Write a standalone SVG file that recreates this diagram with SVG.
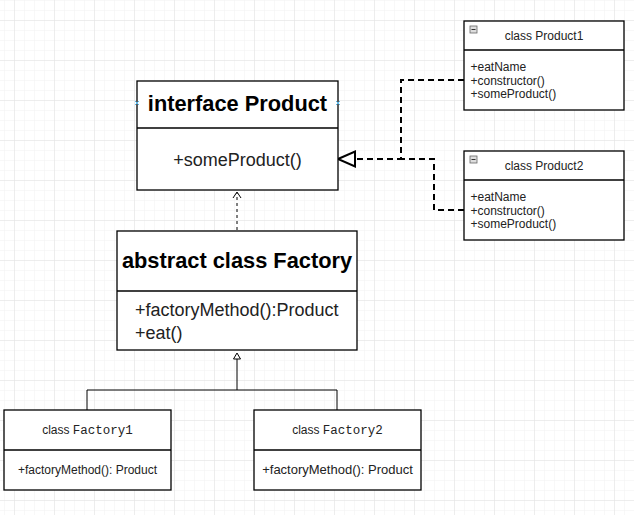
<svg xmlns="http://www.w3.org/2000/svg" width="634" height="515" viewBox="0 0 634 515">
<style>
.box{fill:#fff;stroke:#000;stroke-width:1.3}
.div{stroke:#000;stroke-width:1.3}
.t{font-family:"Liberation Sans",Arial,sans-serif;fill:#222}
.b{font-weight:bold;font-size:21.8px;fill:#000}
.m{font-size:18px}
.s{font-size:12px}
.mono{font-family:"Liberation Mono","Courier New",monospace;font-size:12.5px}
.dash{fill:none;stroke:#000;stroke-width:2;stroke-dasharray:6 4}
.thin{fill:none;stroke:#000;stroke-width:1}
</style>
<defs>
<pattern id="minor" width="10" height="10" patternUnits="userSpaceOnUse" x="4" y="0">
<path d="M0 0H10M0 0V10" fill="none" stroke="#f1f1f1" stroke-width="1"/>
</pattern>
<pattern id="major" width="40" height="40" patternUnits="userSpaceOnUse" x="14" y="20">
<path d="M0 0H40M0 0V40" fill="none" stroke="#e2e2e2" stroke-width="1"/>
</pattern>
</defs>
<rect width="634" height="515" fill="#fff"/>
<rect width="634" height="515" fill="url(#minor)"/>
<rect width="634" height="515" fill="url(#major)"/>

<g id="connectors">
<path class="dash" d="M464 80H401V159H355"/>
<path class="dash" d="M464 210H434V159H401"/>
<path d="M338 159L355 151.5V166.5Z" fill="#fff" stroke="#000" stroke-width="2"/>
<path class="thin" d="M237 230V193" stroke-dasharray="3 3"/>
<path class="thin" d="M233 198L237 192L241 198"/>
<path class="thin" d="M237 359V390M87 410V390H337V410"/>
<path d="M237 353L240.5 359H233.5Z" fill="#fff" stroke="#000" stroke-width="1"/>
</g>

<g id="interface-product">
<rect class="box" x="137" y="81" width="201" height="109"/>
<line class="div" x1="137" y1="128" x2="338" y2="128"/>
<text class="t b" x="237.5" y="110.5" text-anchor="middle">interface Product</text>
<text class="t m" x="237.5" y="166" text-anchor="middle">+someProduct()</text>
<path d="M135 101L139 105M139 101L135 105M336 101L340 105M340 101L336 105" stroke="#5bb8e8" stroke-width="1"/>
</g>

<g id="product1">
<rect class="box" x="464" y="21" width="160" height="89"/>
<line class="div" x1="464" y1="50" x2="624" y2="50"/>
<rect x="470" y="26" width="7" height="7" fill="#ddd" stroke="#666" stroke-width="0.8"/>
<line x1="471.5" y1="29.5" x2="475.5" y2="29.5" stroke="#333" stroke-width="1"/>
<text class="t s" x="544" y="39.5" text-anchor="middle">class Product1</text>
<text class="t s" x="470.5" y="71">+eatName</text>
<text class="t s" x="470.5" y="84.5">+constructor()</text>
<text class="t s" x="470.5" y="98">+someProduct()</text>
</g>

<g id="product2">
<rect class="box" x="464" y="151" width="160" height="89"/>
<line class="div" x1="464" y1="180" x2="624" y2="180"/>
<rect x="470" y="156" width="7" height="7" fill="#ddd" stroke="#666" stroke-width="0.8"/>
<line x1="471.5" y1="159.5" x2="475.5" y2="159.5" stroke="#333" stroke-width="1"/>
<text class="t s" x="544" y="169.5" text-anchor="middle">class Product2</text>
<text class="t s" x="470.5" y="201">+eatName</text>
<text class="t s" x="470.5" y="214.5">+constructor()</text>
<text class="t s" x="470.5" y="228">+someProduct()</text>
</g>

<g id="abstract-factory">
<rect class="box" x="117" y="231" width="240" height="119"/>
<line class="div" x1="117" y1="291" x2="357" y2="291"/>
<text class="t b" x="237" y="267.5" text-anchor="middle">abstract class Factory</text>
<text class="t m" x="135" y="315.5">+factoryMethod():Product</text>
<text class="t m" x="135" y="338.5">+eat()</text>
</g>

<g id="factory1">
<rect class="box" x="4" y="410" width="167" height="80"/>
<line class="div" x1="4" y1="450" x2="171" y2="450"/>
<text class="t s" x="87.5" y="434" text-anchor="middle">class <tspan class="mono">Factory1</tspan></text>
<text class="t s" x="87.5" y="474" text-anchor="middle">+factoryMethod(): Product</text>
</g>

<g id="factory2">
<rect class="box" x="254" y="410" width="167" height="80"/>
<line class="div" x1="254" y1="450" x2="421" y2="450"/>
<text class="t s" x="337.5" y="434" text-anchor="middle">class <tspan class="mono">Factory2</tspan></text>
<text class="t" x="337.5" y="474" text-anchor="middle" font-size="13">+factoryMethod(): Product</text>
</g>
</svg>
